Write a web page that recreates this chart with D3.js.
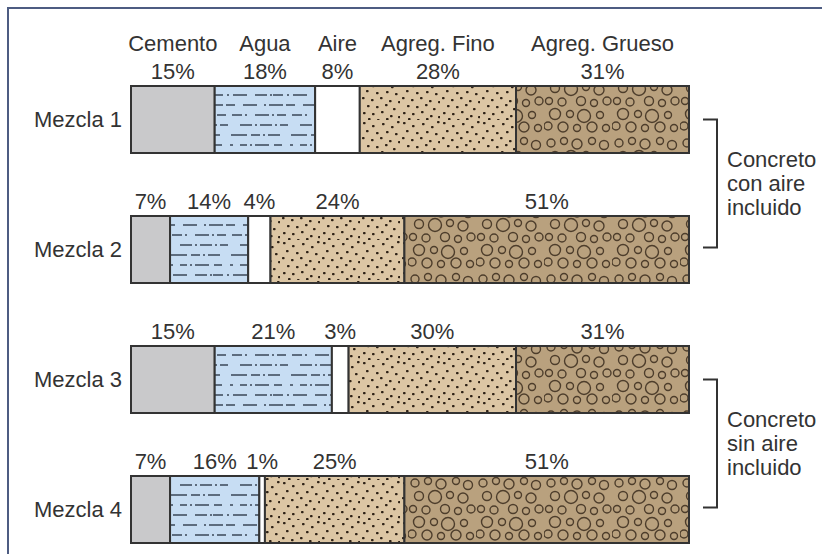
<!DOCTYPE html>
<html><head><meta charset="utf-8">
<script src="https://cdn.jsdelivr.net/npm/d3@7"></script>
<style>
html,body{margin:0;padding:0;background:#fff;}
svg{display:block;font-family:"Liberation Sans",Arial,sans-serif;}
</style></head>
<body>
<script>
const components = ["Cemento", "Agua", "Aire", "Agreg. Fino", "Agreg. Grueso"];
const mixes = ["Mezcla 1", "Mezcla 2", "Mezcla 3", "Mezcla 4"];
const cemento = [15, 7, 15, 7];
const agua = [18, 14, 21, 16];
const aire = [8, 4, 3, 1];
const agregFino = [28, 24, 30, 25];
const agregGrueso = [31, 51, 31, 51];
const groups = [
  {label: ["Concreto", "con aire", "incluido"], mixes: ["Mezcla 1", "Mezcla 2"]},
  {label: ["Concreto", "sin aire", "incluido"], mixes: ["Mezcla 3", "Mezcla 4"]}
];

const W = 822, H = 554;
const FS = 22;
const svg = d3.select("body").append("svg").attr("width", W).attr("height", H);
const defs = svg.append("defs");

// water: dash-dot lines
const pw = defs.append("pattern").attr("id","pAgua").attr("patternUnits","userSpaceOnUse")
  .attr("width",60).attr("height",60);
pw.append("rect").attr("width",60).attr("height",60).attr("fill","#c7ddf3");
const waterRows = [
  "12 3 2 3 12 3 2 3 8 12",
  "16 4 9 3 2 3 12 11",
  "8 3 14 3 2 3 14 5 8",
  "10 4 2 4 14 8 12 3 2 1",
  "2 3 14 3 9 8 14 7",
  "14 3 2 3 9 6 10 3 2 8"
];
waterRows.forEach((da,i)=>{
  pw.append("line").attr("x1",0).attr("x2",60).attr("y1",5+i*10).attr("y2",5+i*10)
    .attr("stroke","#3a4758").attr("stroke-width",1.6).attr("stroke-dasharray",da)
    .attr("stroke-dashoffset", i*9);
});
// fine aggregate: dots
const pf = defs.append("pattern").attr("id","pFino").attr("patternUnits","userSpaceOnUse")
  .attr("width",40).attr("height",40);
pf.append("rect").attr("width",40).attr("height",40).attr("fill","#dcc6a4");
const dotPts = [[3,2],[12,5],[22,3],[31,6],[37,1],[6,10],[16,12],[26,11],[35,13],[2,17],[11,19],[20,17],[29,20],[38,21],
  [7,25],[16,26],[25,24],[33,28],[3,32],[12,33],[21,31],[30,35],[38,36],[8,38],[17,39],[26,38]];
dotPts.forEach(p=>pf.append("rect").attr("x",p[0]).attr("y",p[1]).attr("width",2.6).attr("height",2.3).attr("rx",0.8).attr("fill","#2e2216"));
// coarse aggregate: circles
const pg = defs.append("pattern").attr("id","pGrueso").attr("patternUnits","userSpaceOnUse")
  .attr("width",68).attr("height",68);
pg.append("rect").attr("width",68).attr("height",68).attr("fill","#b9a17e");
const circ = [[7,7,4],[20,5,3.5],[33,8,5],[48,5,3.5],[60,9,4.5],[11,20,4.5],[27,21,6.5],[42,19,3.5],[55,22,5],
  [5,33,3.5],[18,34,4],[37,33,4.5],[50,35,3.5],[63,33,4],[11,46,5.5],[26,46,3.5],[40,48,6.5],[56,47,3.5],
  [4,58,4],[19,59,5],[33,60,3.5],[48,59,5],[62,60,3.5]];
circ.forEach(c=>pg.append("circle").attr("cx",c[0]).attr("cy",c[1]).attr("r",c[2])
  .attr("fill","none").attr("stroke","#4d3d2b").attr("stroke-width",1.4));

const fills = {"Cemento":"#c9c9cb","Agua":"url(#pAgua)","Aire":"#ffffff","Agreg. Fino":"url(#pFino)","Agreg. Grueso":"url(#pGrueso)"};

// frame
svg.append("path").attr("d","M8,560 L8,8 L830,8").attr("fill","none").attr("stroke","#4d5c82").attr("stroke-width",2);

const x = d3.scaleLinear().domain([0,100]).range([131, 689]);
const y = d3.scaleBand().domain(mixes).range([86, 543]).paddingInner(0.4846).paddingOuter(0);

const values = [cemento, agua, aire, agregFino, agregGrueso];
const rows = mixes.map((m,i)=>{
  let acc = 0;
  const segs = components.map((c,j)=>{
    const v = values[j][i];
    const s = {mix:m, comp:c, v:v, x0:acc, x1:acc+v};
    acc += v; return s;
  });
  return {mix:m, segs:segs, idx:i};
});

const textColor = "#333";
const g = svg.append("g");
rows.forEach(r=>{
  const top = y(r.mix), bh = y.bandwidth();
  const gr = g.append("g");
  gr.selectAll("rect.seg").data(r.segs).join("rect").attr("class","seg")
    .attr("x",d=>x(d.x0)).attr("y",top).attr("width",d=>x(d.x1)-x(d.x0)).attr("height",bh)
    .attr("fill",d=>fills[d.comp]).attr("stroke","#333").attr("stroke-width",2);
  gr.selectAll("text.pct").data(r.segs).join("text").attr("class","pct")
    .attr("x",d=>(x(d.x0)+x(d.x1))/2).attr("y",top-7)
    .attr("text-anchor","middle").attr("font-size",FS).attr("fill",textColor)
    .text(d=>d.v+"%");
  gr.append("text").attr("x",x(0)-9).attr("y",top+bh/2).attr("dy","0.35em")
    .attr("text-anchor","end").attr("font-size",FS).attr("fill",textColor).text(r.mix);
  if(r.idx===0){
    gr.selectAll("text.hdr").data(r.segs).join("text").attr("class","hdr")
      .attr("x",d=>(x(d.x0)+x(d.x1))/2).attr("y",top-35)
      .attr("text-anchor","middle").attr("font-size",FS).attr("fill",textColor)
      .text(d=>d.comp);
  }
});

// brackets
groups.forEach(gp=>{
  const y0 = y(gp.mixes[0]) + y.bandwidth()/2;
  const y1 = y(gp.mixes[1]) + y.bandwidth()/2 - 2;
  svg.append("path").attr("d",`M703,${y0} H717 V${y1} H703`).attr("fill","none")
    .attr("stroke","#333").attr("stroke-width",2);
  const mid = (y0+y1)/2;
  const t = svg.append("text").attr("x",728).attr("font-size",FS).attr("fill",textColor);
  gp.label.forEach((l,i)=>t.append("tspan").attr("x",727).attr("y",mid-24+i*24).attr("dy","0.35em").text(l));
});
</script>
</body></html>
